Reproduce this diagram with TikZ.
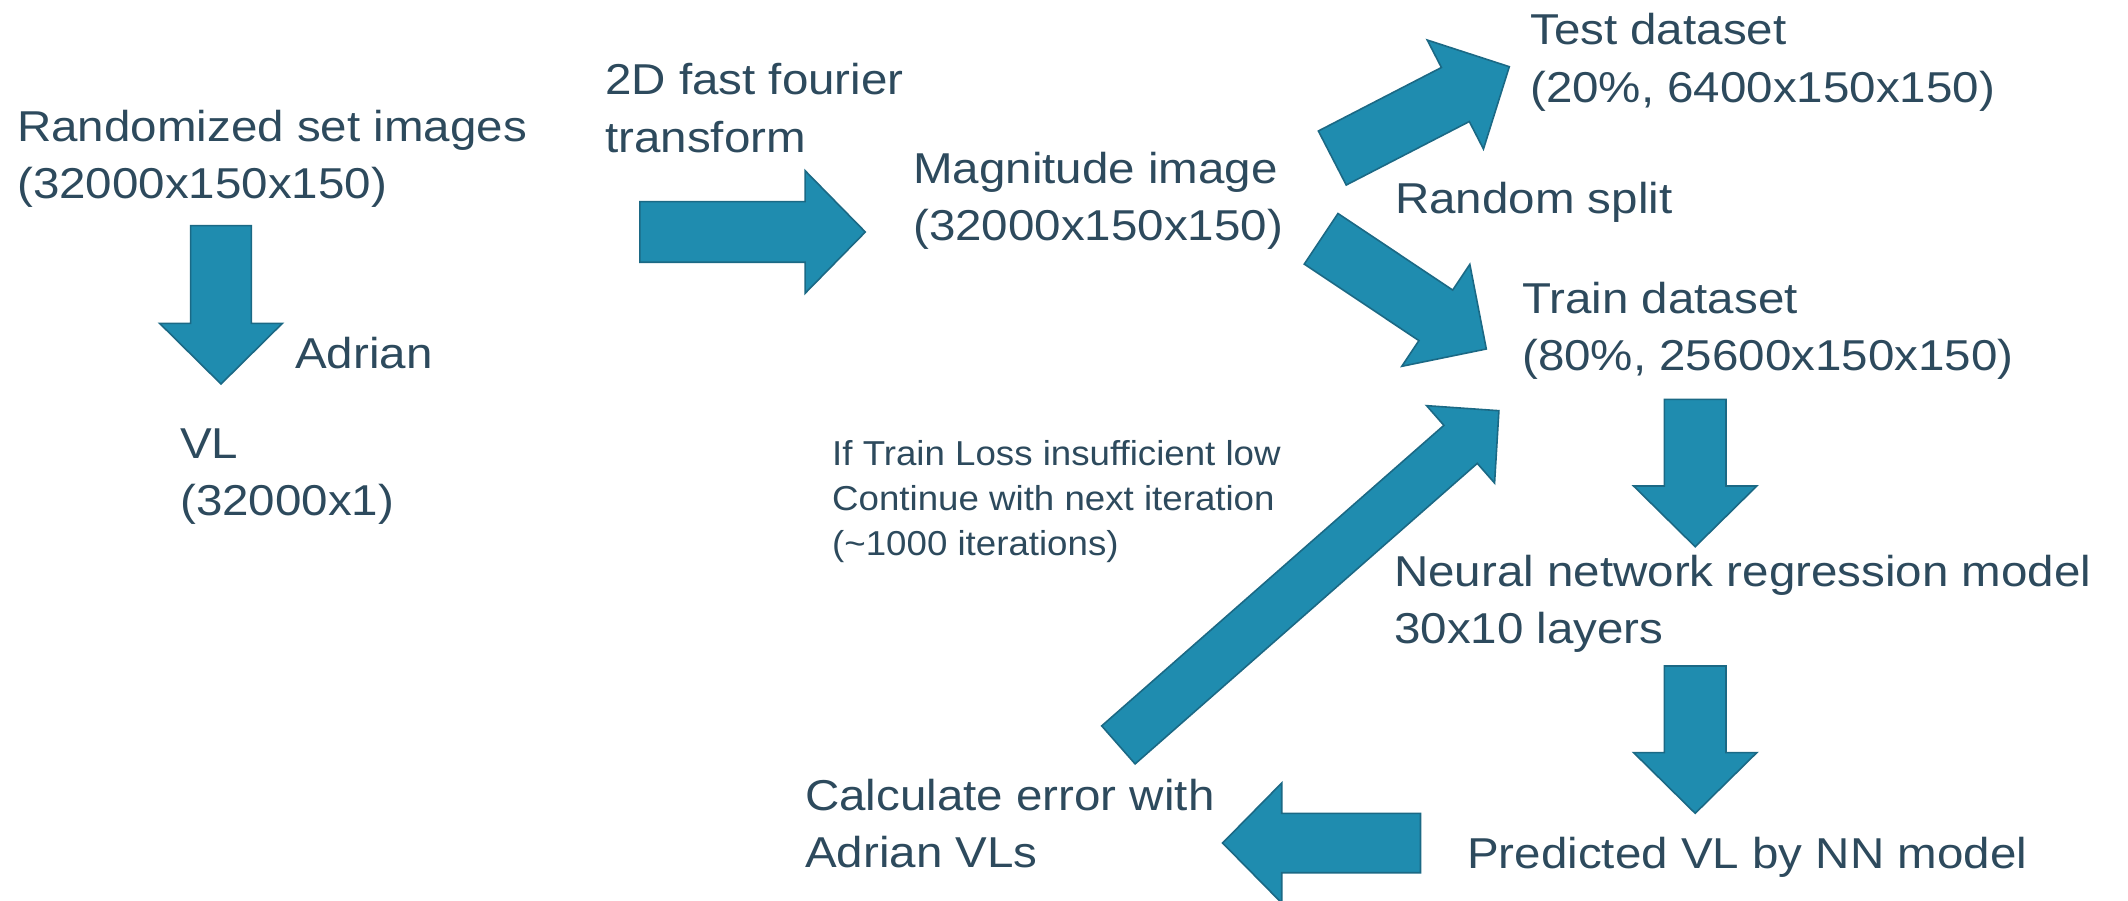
\documentclass[tikz,border=0pt]{standalone}
\usepackage{fontspec}
\setmainfont{Liberation Sans}[FakeStretch=1.10]
\newfontfamily\smallfnt{Liberation Sans}[FakeStretch=1.06]
\usetikzlibrary{calc}
\definecolor{arrfill}{HTML}{1F8CAF}
\definecolor{arrline}{HTML}{1B6985}
\definecolor{txtcol}{HTML}{2D4A5D}
% #1 name, #2 tail, #3 tip, #4 shaft half width, #5 head half width, #6 head length
\newcommand\blockarr[6]{%
  \coordinate (#1b) at ($(#3)!#6!(#2)$);
  \filldraw[barr] ($(#2)!#4!90:(#3)$) -- ($(#1b)!#4!90:(#3)$) -- ($(#1b)!#5!90:(#3)$) -- (#3)
    -- ($(#1b)!#5!-90:(#3)$) -- ($(#1b)!#4!-90:(#3)$) -- ($(#2)!#4!-90:(#3)$) -- cycle;}
\begin{document}
\begin{tikzpicture}[x=1pt,y=-1pt,
  lbl/.style={anchor=base west,inner sep=0pt,text=txtcol,font=\fontsize{43.2}{57.3}\selectfont},
  smalllbl/.style={anchor=base west,inner sep=0pt,text=txtcol,font=\smallfnt\fontsize{34.6}{45}\selectfont},
  barr/.style={fill=arrfill,draw=arrline,line width=1.6pt,line join=miter}]
\fill[white] (0,0) rectangle (2128,901);
\useasboundingbox (0,0) rectangle (2128,901);

% texts
\node[lbl] (rand) at (17,141.7) {\vtop{\hbox{Randomized set images}\hbox{(32000x150x150)}}};
\node[lbl] (adrian) at (295,368.3) {Adrian};
\node[lbl] (vl) at (180,458) {\vtop{\hbox{VL}\hbox{(32000x1)}}};
\node[lbl] (fft) at (605,95) {\vtop{\hbox{2D fast fourier}\hbox{transform}}};
\node[lbl] (mag) at (913,183.3) {\vtop{\hbox{Magnitude image}\hbox{(32000x150x150)}}};
\node[lbl] (test) at (1530,45) {\vtop{\hbox{Test dataset}\hbox{(20\%, 6400x150x150)}}};
\node[lbl] (split) at (1395,213.3) {Random split};
\node[lbl] (train) at (1522,313.3) {\vtop{\hbox{Train dataset}\hbox{(80\%, 25600x150x150)}}};
\node[lbl] (nn) at (1394,586) {\vtop{\hbox{Neural network regression model}\hbox{30x10 layers}}};
\node[lbl] (pred) at (1467,868.3) {Predicted VL by NN model};
\node[lbl] (calc) at (805,810) {\vtop{\hbox{Calculate error with}\hbox{Adrian VLs}}};
\node[smalllbl] (iter) at (832,465) {\vtop{\hbox{If Train Loss insufficient low}\hbox{Continue with next iteration}\hbox{(\textasciitilde1000 iterations)}}};

% arrow end points
\coordinate (a1t) at (221,225.7);   \coordinate (a1h) at (221,384);
\coordinate (a2t) at (639.8,232);   \coordinate (a2h) at (865.3,232);
\coordinate (a3t) at (1332.3,158);  \coordinate (a3h) at (1509.3,66.7);
\coordinate (a4t) at (1321.1,238.8);\coordinate (a4h) at (1486.3,349);
\coordinate (a5t) at (1695.2,399.3);\coordinate (a5h) at (1695.2,546.7);
\coordinate (a6t) at (1695.2,666);  \coordinate (a6h) at (1695.2,813.3);
\coordinate (a7t) at (1420.5,843);  \coordinate (a7h) at (1222.6,843);
\coordinate (a8t) at (1118.4,744.9);\coordinate (a8h) at (1498.9,410.7);

\blockarr{a1}{a1t}{a1h}{30.4pt}{61.4pt}{60.7pt}
\blockarr{a2}{a2t}{a2h}{30.3pt}{61.3pt}{60.2pt}
\blockarr{a3}{a3t}{a3h}{30.4pt}{61.3pt}{60.7pt}
\blockarr{a4}{a4t}{a4h}{30.4pt}{61.3pt}{60.7pt}
\blockarr{a5}{a5t}{a5h}{30.8pt}{61.6pt}{60.7pt}
\blockarr{a6}{a6t}{a6h}{30.8pt}{61.6pt}{60.7pt}
\blockarr{a7}{a7t}{a7h}{29.7pt}{60pt}{59.1pt}
\blockarr{a8}{a8t}{a8h}{25.3pt}{51.5pt}{51pt}
\end{tikzpicture}
\end{document}
